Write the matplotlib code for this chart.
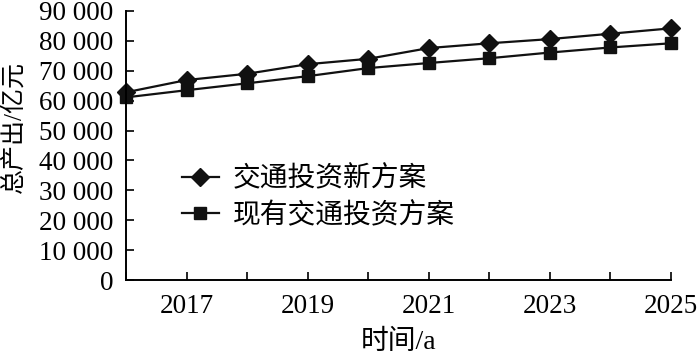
import matplotlib
matplotlib.use("Agg")
import matplotlib.pyplot as plt
from matplotlib.ticker import FuncFormatter, MultipleLocator

plt.rcParams['font.family'] = ['Liberation Serif', 'Noto Sans CJK SC']

# data
years = [2016, 2017, 2018, 2019, 2020, 2021, 2022, 2023, 2024, 2025]
new_plan = [62800, 66900, 69000, 72200, 74000, 77600, 79200, 80600, 82400, 84200]
current_plan = [61100, 63500, 65800, 68200, 70900, 72600, 74200, 76100, 77800, 79200]
labels = ['交通投资新方案', '现有交通投资方案']
x_ticklabels = [2017, 2019, 2021, 2023, 2025]

fig = plt.figure(figsize=(7, 3.57), dpi=100)
ax = fig.add_axes([126 / 700, 1 - 280 / 357, (671 - 126) / 700, (280 - 11) / 357])

c = '#111111'
ax.plot(years, new_plan, color=c, lw=1.6, marker='D', markersize=9, label=labels[0])
ax.plot(years, current_plan, color=c, lw=1.6, marker='s', markersize=8.5, label=labels[1])

ax.set_xlim(2016, 2025)
ax.set_ylim(0, 90000)
ax.set_xticks(years)
ax.set_xticklabels([str(y) if y in x_ticklabels else '' for y in years])
ax.yaxis.set_major_locator(MultipleLocator(10000))
ax.yaxis.set_major_formatter(FuncFormatter(lambda v, p: f'{int(v):,}'.replace(',', ' ')))

ax.tick_params(direction='in', length=6, width=1.2, labelsize=19.5, colors='black')
ax.tick_params(axis='x', pad=10)
ax.tick_params(axis='y', pad=9)
for s in ['top', 'right']:
    ax.spines[s].set_visible(False)
for s in ['left', 'bottom']:
    ax.spines[s].set_linewidth(1.4)

ax.set_xlabel('时间/a', fontsize=20, labelpad=8)
ax.set_ylabel('总产出/亿元', fontsize=18)
ax.yaxis.set_label_coords(-0.185, 0.57)

ax.legend(loc='upper left', bbox_to_anchor=(182 / 700, 1 - 166 / 357), bbox_transform=fig.transFigure,
          frameon=False, fontsize=20, handlelength=1.33, handletextpad=0.5, labelspacing=0.35,
          borderaxespad=0, borderpad=0)

for line in ax.lines:
    line.set_clip_on(False)

fig.savefig('out.png', dpi=100)
